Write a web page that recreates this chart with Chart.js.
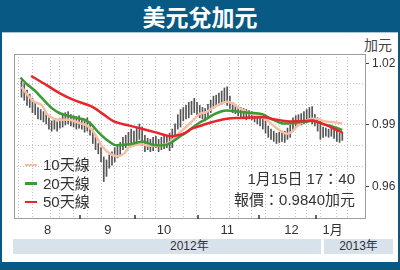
<!DOCTYPE html>
<html>
<head>
<meta charset="utf-8">
<script src="https://cdn.jsdelivr.net/npm/chart.js@4.4.1/dist/chart.umd.min.js"></script>
<style>
  html, body { margin: 0; padding: 0; }
  body {
    width: 400px; height: 270px; position: relative; overflow: hidden;
    background: #085a84;
    font-family: "Liberation Sans", Arial, "Noto Sans CJK TC", sans-serif;
    color: #333;
  }
  #title {
    position: absolute; left: 0; top: 0; width: 400px; height: 32px;
    line-height: 32px; text-align: center; color: #fff;
    font-family: "Noto Sans CJK TC", sans-serif; font-weight: bold; font-size: 23px;
  }
  #panel {
    position: absolute; left: 2px; top: 32px; width: 396px; height: 230px;
    background: #fff; border-top: 1px solid #a9c6d8; box-sizing: border-box;
  }
  .year {
    position: absolute; top: 239px; height: 15px; line-height: 15px;
    background: #d7e2eb; font-size: 12px; color: #333;
  }
  #unit {
    position: absolute; left: 364px; top: 34px; font-size: 14px; color: #444;
    font-family: "Noto Sans CJK TC", sans-serif;
  }
  #legend { position: absolute; left: 25px; top: 156px; font-size: 15px; }
  #legend div { height: 18.5px; line-height: 18.5px; white-space: nowrap; }
  #legend span.swatch {
    display: inline-block; width: 12px; height: 2.5px; vertical-align: middle;
    margin-right: 6px; position: relative; top: -1px;
  }
  #note {
    position: absolute; right: 45px; top: 168px; text-align: right;
    font-size: 15px; line-height: 21px; color: #333;
  }
  #wrap { position: absolute; left: 0; top: 0; width: 400px; height: 270px; }
</style>
</head>
<body>
<div id="title">美元兌加元</div>
<div id="panel"></div>
<div class="year" style="left:13px; width:308px;"><span style="position:absolute; left:157px;">2012年</span></div>
<div class="year" style="left:324px; width:69px; text-align:center;">2013年</div>
<div id="unit">加元</div>
<div id="wrap"><canvas id="chart" width="400" height="270"></canvas></div>
<div id="legend"></div>
<div id="note">1月15日 17：40<br>報價：0.9840加元</div>

<script>
// 每日高低 (第一個交易日 = 1)
const firstDay = 1;
const lows = [
  1.0035, 1.0020, 0.9995, 0.9985, 0.9960, 0.9950, 0.9930, 0.9925, 0.9915, 0.9905,
  0.9880, 0.9870, 0.9880, 0.9870, 0.9885, 0.9890, 0.9900, 0.9905, 0.9895, 0.9890,
  0.9880, 0.9885, 0.9880, 0.9865, 0.9870, 0.9850, 0.9810, 0.9780, 0.9760, 0.9720,
  0.9625, 0.9650, 0.9690, 0.9705, 0.9720, 0.9740, 0.9750, 0.9780, 0.9790, 0.9800,
  0.9810, 0.9800, 0.9815, 0.9830, 0.9800, 0.9770, 0.9780, 0.9770, 0.9775, 0.9790,
  0.9770, 0.9780, 0.9785, 0.9790, 0.9775, 0.9790, 0.9840, 0.9880, 0.9890, 0.9920,
  0.9930, 0.9935, 0.9950, 0.9960, 0.9950, 0.9935, 0.9930, 0.9920, 0.9940, 0.9960,
  0.9980, 0.9990, 0.9995, 1.0000, 1.0010, 0.9995, 0.9980, 0.9960, 0.9955, 0.9945,
  0.9935, 0.9930, 0.9925, 0.9930, 0.9925, 0.9915, 0.9905, 0.9895, 0.9880, 0.9860,
  0.9840, 0.9830, 0.9820, 0.9810, 0.9815, 0.9820, 0.9815, 0.9830, 0.9840, 0.9870,
  0.9890, 0.9895, 0.9900, 0.9905, 0.9910, 0.9915, 0.9905, 0.9895, 0.9870, 0.9830,
  0.9840, 0.9845, 0.9840, 0.9845, 0.9835, 0.9820, 0.9815, 0.9825
];
const highs = [
  1.0115, 1.0100, 1.0070, 1.0050, 1.0030, 1.0010, 0.9985, 0.9975, 0.9965, 0.9950,
  0.9935, 0.9920, 0.9925, 0.9915, 0.9930, 0.9950, 0.9960, 0.9965, 0.9950, 0.9945,
  0.9940, 0.9945, 0.9930, 0.9925, 0.9935, 0.9915, 0.9880, 0.9840, 0.9810, 0.9790,
  0.9745, 0.9730, 0.9755, 0.9770, 0.9790, 0.9800, 0.9815, 0.9840, 0.9850, 0.9865,
  0.9880, 0.9870, 0.9890, 0.9905, 0.9890, 0.9850, 0.9835, 0.9830, 0.9840, 0.9845,
  0.9830, 0.9840, 0.9845, 0.9850, 0.9860, 0.9880, 0.9905, 0.9950, 0.9975, 0.9985,
  0.9995, 1.0010, 1.0015, 1.0030, 1.0010, 0.9995, 0.9985, 0.9980, 1.0000, 1.0020,
  1.0040, 1.0045, 1.0055, 1.0065, 1.0080, 1.0085, 1.0040, 1.0010, 1.0000, 0.9990,
  0.9985, 0.9980, 0.9975, 0.9970, 0.9965, 0.9960, 0.9955, 0.9945, 0.9930, 0.9920,
  0.9895, 0.9880, 0.9870, 0.9860, 0.9865, 0.9870, 0.9870, 0.9885, 0.9900, 0.9935,
  0.9945, 0.9950, 0.9955, 0.9965, 0.9975, 0.9985, 0.9990, 0.9950, 0.9935, 0.9920,
  0.9890, 0.9885, 0.9880, 0.9890, 0.9880, 0.9870, 0.9860, 0.9860
];

// 移動平均線 [交易日, 數值]
const ma10 = [
  [1, 1.0086], [3, 1.0050], [5.6, 1.0013], [8.4, 0.9997], [10.3, 0.9952], [12.5, 0.9932],
  [14.5, 0.9925], [18.5, 0.9925], [21.5, 0.9912], [24.4, 0.9900], [26.7, 0.9876], [29, 0.9827],
  [30.5, 0.9794], [32.5, 0.9768], [34.2, 0.9754], [36.1, 0.9748], [38.5, 0.9762], [40.1, 0.9790],
  [42.5, 0.9802], [44.5, 0.9806], [47.5, 0.9800], [50.5, 0.9798], [54, 0.9808], [56.1, 0.9827],
  [58.5, 0.9862], [61, 0.9890], [63.1, 0.9916], [66, 0.9955], [68, 0.9960], [71, 0.9985],
  [74, 1.0005], [76, 1.0013], [78, 1.0005], [80, 0.9985], [84, 0.9958], [88.5, 0.9940],
  [91, 0.9918], [94, 0.9885], [97.5, 0.9858], [99.5, 0.9866], [102, 0.9900], [104.5, 0.9920],
  [107, 0.9930], [109.5, 0.9928], [111, 0.9920], [114, 0.9914], [118, 0.9908]
];
const ma20 = [
  [0.6, 1.0130], [3, 1.0098], [5.6, 1.0070], [8.5, 1.0030], [11.4, 0.9989], [13.5, 0.9968],
  [15, 0.9957], [18, 0.9945], [21, 0.9935], [24.4, 0.9924], [26.7, 0.9900], [29, 0.9865],
  [31.4, 0.9835], [34.9, 0.9803], [37.5, 0.9803], [40.8, 0.9806], [44.4, 0.9819], [46.7, 0.9814],
  [49, 0.9803], [53.7, 0.9803], [56.1, 0.9819], [59.6, 0.9851], [61, 0.9862], [63.1, 0.9884],
  [66, 0.9912], [68.5, 0.9930], [71, 0.9950], [73.5, 0.9964], [75.9, 0.9970], [79.5, 0.9966],
  [84, 0.9960], [88.9, 0.9952], [92, 0.9930], [95.9, 0.9908], [100.6, 0.9910], [104.5, 0.9916],
  [107.7, 0.9921], [111.2, 0.9903], [114.5, 0.9892], [118, 0.9876]
];
const ma50 = [
  [4.5, 1.0138], [10, 1.0095], [15, 1.0054], [20, 1.0022], [26.7, 0.9989], [30.5, 0.9955],
  [34.9, 0.9916], [40, 0.9898], [46.6, 0.9876], [51, 0.9860], [55, 0.9846], [58, 0.9850],
  [60.7, 0.9862], [63.1, 0.9882], [66, 0.9895], [70, 0.9912], [74.8, 0.9928], [79, 0.9934],
  [84.2, 0.9936], [89.5, 0.9937], [93, 0.9928], [97.7, 0.9918], [102, 0.9918], [107.1, 0.9920],
  [110, 0.9910], [112.5, 0.9898], [114.7, 0.9884], [118.2, 0.9861]
];

const seriesNames = ['10天線', '20天線', '50天線'];
const seriesColors = ['#f5bfa6', '#3c9a35', '#e8242c'];

// 月份
const monthLabels = ['8', '9', '10', '11', '12', '1月'];
const monthCenters = [10.5, 32.5, 53, 76, 99.5, 114.5];
const monthEdges = [22.5, 42.5, 65.5, 87.5, 108.5];

// 右軸
const yGridValues = [0.96, 0.97, 0.98, 0.99, 1.00, 1.01, 1.02];
const yLabelValues = [0.96, 0.99, 1.02];

const same = (a, b) => Math.abs(a - b) < 1e-6;
const gridGray = '#c4c4c4';

// 每週格線
const weekLines = [];
for (let v = 2.5; v < 124; v += 5) weekLines.push(v);

const xTickValues = weekLines.concat(monthCenters.filter(m => !weekLines.some(w => same(w, m))))
  .sort((a, b) => a - b);

const toPoints = arr => arr.map(p => ({ x: p[0], y: p[1] }));

const frame = {
  id: 'frame',
  beforeDatasetsDraw(chart) {
    const { ctx, chartArea: a, scales } = chart;
    ctx.save();
    ctx.strokeStyle = '#9d9d9d';
    ctx.lineWidth = 1;
    ctx.strokeRect(a.left + 0.5, a.top + 0.5, a.width - 1, a.height - 1);
    ctx.strokeStyle = '#333';
    ctx.lineWidth = 1.5;
    monthEdges.forEach(v => {
      const px = Math.round(scales.x.getPixelForValue(v));
      ctx.beginPath();
      ctx.moveTo(px, a.bottom);
      ctx.lineTo(px, a.bottom - 4);
      ctx.stroke();
    });
    ctx.restore();
  }
};

Chart.defaults.font.family = '"Liberation Sans", Arial, "Noto Sans CJK TC", sans-serif';
Chart.defaults.color = '#333';

const lineSet = (i, pts, order) => ({
  type: 'line',
  label: seriesNames[i],
  data: toPoints(pts),
  borderColor: seriesColors[i],
  borderWidth: 2.5,
  pointRadius: 0,
  tension: 0.3,
  order: order
});

new Chart(document.getElementById('chart').getContext('2d'), {
  type: 'bar',
  data: {
    datasets: [
      lineSet(2, ma50, 1),
      lineSet(1, ma20, 2),
      lineSet(0, ma10, 3),
      {
        type: 'bar',
        label: 'bars',
        data: lows.map((lo, i) => ({ x: firstDay + i, y: [lo, highs[i]] })),
        backgroundColor: '#555',
        barThickness: 1,
        order: 10
      }
    ]
  },
  options: {
    responsive: false,
    animation: false,
    layout: { padding: { left: 14, top: 54, right: 0, bottom: 0 } },
    plugins: { legend: { display: false }, tooltip: { enabled: false } },
    scales: {
      x: {
        type: 'linear',
        min: 0.4,
        max: 124.5,
        afterBuildTicks: s => { s.ticks = xTickValues.map(v => ({ value: v })); },
        afterFit: s => { s.height = 51; },
        grid: {
          color: c => (c.tick && weekLines.some(w => same(w, c.tick.value))) ? gridGray : 'rgba(0,0,0,0)',
          drawTicks: false
        },
        border: { display: false, dash: [1, 2] },
        ticks: {
          autoSkip: false,
          maxRotation: 0,
          padding: 4,
          font: { size: 13 },
          callback: v => {
            const k = monthCenters.findIndex(m => same(m, v));
            return k >= 0 ? monthLabels[k] : '';
          }
        }
      },
      y: {
        position: 'right',
        min: 0.9443,
        max: 1.0245,
        afterBuildTicks: s => { s.ticks = yGridValues.map(v => ({ value: v })); },
        afterFit: s => { s.width = 34; },
        grid: {
          color: c => (c.tick && c.tick.value > 0.965 && c.tick.value < 1.015) ? gridGray : 'rgba(0,0,0,0)',
          tickColor: c => (c.tick && yLabelValues.some(m => same(m, c.tick.value))) ? '#444' : 'rgba(0,0,0,0)',
          tickLength: 3
        },
        border: { display: false, dash: [1, 2] },
        ticks: {
          padding: 3,
          font: { size: 12 },
          callback: v => yLabelValues.some(m => same(m, v)) ? v.toFixed(2) : ''
        }
      }
    }
  },
  plugins: [frame]
});

// 圖例
const legend = document.getElementById('legend');
seriesNames.forEach((name, i) => {
  const row = document.createElement('div');
  row.innerHTML = '<span class="swatch" style="background:' + seriesColors[i] + '"></span><span>' + name + '</span>';
  legend.appendChild(row);
});
</script>
</body>
</html>
